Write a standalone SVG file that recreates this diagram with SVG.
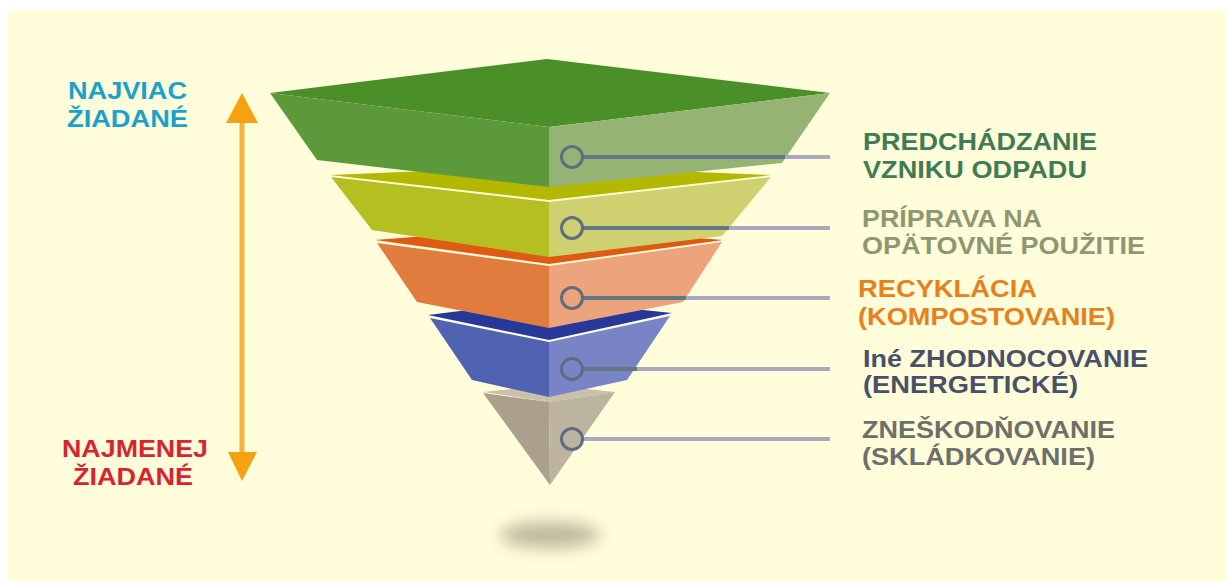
<svg xmlns="http://www.w3.org/2000/svg" width="1227" height="581" viewBox="0 0 1227 581">
  <defs>
    <style>
      .lbl { font-family: "Liberation Sans", Arial, sans-serif; font-weight: bold; }
      .left { font-size: 24px; text-anchor: middle; }
      .right { font-size: 23px; }
      .dot { fill: none; stroke: #5E6E80; stroke-width: 3; }
      .cin { stroke: #647585; stroke-width: 4; }
      .cout { stroke: #A9A8BC; stroke-width: 4; }
    </style>
    <filter id="blur" x="-50%" y="-100%" width="200%" height="300%">
      <feGaussianBlur stdDeviation="8"/>
    </filter>
    <filter id="glow" x="-200%" y="-10%" width="500%" height="120%">
      <feGaussianBlur stdDeviation="2"/>
    </filter>
  </defs>

  <rect x="0" y="0" width="1227" height="581" fill="#FFFFFF"/>
  <rect x="8" y="10" width="1219" height="571" fill="#FFFDDA"/>

  <!-- shadow -->
  <ellipse cx="550" cy="535" rx="50" ry="13" fill="#B0A68C" opacity="0.8" filter="url(#blur)"/>

  <!-- double arrow -->
  <g id="arrow">
    <line x1="242" y1="118" x2="242" y2="456" stroke="#F8D27A" stroke-width="9" filter="url(#glow)" opacity="0.7"/>
    <line x1="242" y1="118" x2="242" y2="456" stroke="#F4B43C" stroke-width="5"/>
    <polygon points="242,93 258,123 226,123" fill="#F5A210"/>
    <polygon points="228,452 257,452 242,481" fill="#F5A210"/>
  </g>

  <!-- grey layer -->
  <g id="layer5">
    <polygon points="483,392 549,385 615,392 549,402" fill="#CAC1AB"/>
    <polygon points="483,393 549,402 550,485" fill="#AAA08B"/>
    <polygon points="549,402 615,392 550,485" fill="#BDB49F"/>
  </g>

  <!-- blue layer -->
  <g id="layer4">
    <polygon points="428,315 549,300 672,313 549,340" fill="#26399A"/>
    <polygon points="430,318 549,342 549,397 472,380" fill="#5063B3"/>
    <polygon points="549,342 670,316 627,380 549,397" fill="#7884C6"/>
  </g>

  <!-- orange layer -->
  <g id="layer3">
    <polygon points="375,240 549,226 723,240 549,264" fill="#DF5A12"/>
    <polygon points="377,243 549,266 549,328 417,302" fill="#E07D3E"/>
    <polygon points="549,266 722,242 683,302 549,328" fill="#EDA37B"/>
  </g>

  <!-- yellow layer -->
  <g id="layer2">
    <polygon points="330,175 549,166 772,175 549,200" fill="#B3B900"/>
    <polygon points="331,177 549,202 549,257 372,230" fill="#B6BF22"/>
    <polygon points="549,202 771,177 722,236 549,257" fill="#CFD170"/>
  </g>

  <!-- green layer -->
  <g id="layer1">
    <polygon points="270,93 547,59 830,93 549,127" fill="#4A8F27"/>
    <polygon points="270,93 549,127 549,187 317,160" fill="#5C993B"/>
    <polygon points="549,127 830,93 782,163 549,187" fill="#95B474"/>
  </g>

  <!-- connectors -->
  <g id="connectors">
    <line class="cout" x1="583" y1="157" x2="830" y2="157"/>
    <line class="cin" x1="583" y1="157" x2="785" y2="157"/>
    <circle class="dot" cx="572" cy="157" r="10.5"/>

    <line class="cout" x1="583" y1="228" x2="830" y2="228"/>
    <line class="cin" x1="583" y1="228" x2="729" y2="228"/>
    <circle class="dot" cx="572" cy="228" r="10.5"/>

    <line class="cout" x1="583" y1="298" x2="830" y2="298"/>
    <line class="cin" x1="583" y1="298" x2="686" y2="298"/>
    <circle class="dot" cx="572" cy="298" r="10.5"/>

    <line class="cout" x1="583" y1="369" x2="830" y2="369"/>
    <line class="cin" x1="583" y1="369" x2="637" y2="369"/>
    <circle class="dot" cx="572" cy="369" r="10.5"/>

    <line class="cout" x1="583" y1="439" x2="830" y2="439"/>
    <circle class="dot" cx="572" cy="439" r="10.5"/>
  </g>

  <!-- left labels -->
  <g id="label-most">
    <text class="lbl left" x="127.5" y="99" fill="#1BA2CA" textLength="119" lengthAdjust="spacingAndGlyphs">NAJVIAC</text>
    <text class="lbl left" x="127.5" y="127" fill="#1BA2CA" textLength="121" lengthAdjust="spacingAndGlyphs">ŽIADANÉ</text>
  </g>
  <g id="label-least">
    <text class="lbl left" x="135" y="457" fill="#D9242E" textLength="146" lengthAdjust="spacingAndGlyphs">NAJMENEJ</text>
    <text class="lbl left" x="133" y="485" fill="#D9242E" textLength="120" lengthAdjust="spacingAndGlyphs">ŽIADANÉ</text>
  </g>

  <!-- right labels -->
  <g id="label1">
    <text class="lbl right" x="863" y="150" fill="#3F7B53" textLength="234" lengthAdjust="spacingAndGlyphs">PREDCHÁDZANIE</text>
    <text class="lbl right" x="863" y="178" fill="#3F7B53" textLength="224" lengthAdjust="spacingAndGlyphs">VZNIKU ODPADU</text>
  </g>
  <g id="label2">
    <text class="lbl right" x="862" y="227" fill="#8D9870" textLength="180" lengthAdjust="spacingAndGlyphs">PRÍPRAVA NA</text>
    <text class="lbl right" x="862" y="254" fill="#8D9870" textLength="283" lengthAdjust="spacingAndGlyphs">OPÄTOVNÉ POUŽITIE</text>
  </g>
  <g id="label3">
    <text class="lbl right" x="858" y="297" fill="#E8801C" textLength="179" lengthAdjust="spacingAndGlyphs">RECYKLÁCIA</text>
    <text class="lbl right" x="858" y="325" fill="#E8801C" textLength="257" lengthAdjust="spacingAndGlyphs">(KOMPOSTOVANIE)</text>
  </g>
  <g id="label4">
    <text class="lbl right" x="863" y="367" fill="#4A5068" textLength="285" lengthAdjust="spacingAndGlyphs">Iné ZHODNOCOVANIE</text>
    <text class="lbl right" x="863" y="393" fill="#4A5068" textLength="215" lengthAdjust="spacingAndGlyphs">(ENERGETICKÉ)</text>
  </g>
  <g id="label5">
    <text class="lbl right" x="862" y="438" fill="#6D6F68" textLength="253" lengthAdjust="spacingAndGlyphs">ZNEŠKODŇOVANIE</text>
    <text class="lbl right" x="862" y="465" fill="#6D6F68" textLength="233" lengthAdjust="spacingAndGlyphs">(SKLÁDKOVANIE)</text>
  </g>
</svg>
